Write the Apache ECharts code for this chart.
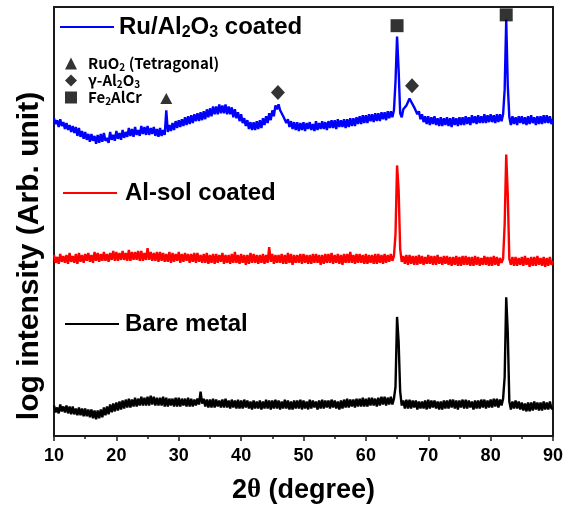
<!DOCTYPE html>
<html>
<head>
<meta charset="utf-8">
<script src="https://cdn.jsdelivr.net/npm/echarts@6/dist/echarts.min.js"></script>
<style>html,body{margin:0;padding:0;background:#fff;}#c{width:572px;height:509px;}</style>
</head>
<body>
<div id="c"></div>
<script>
// x tick labels
var xTicks = [10, 20, 30, 40, 50, 60, 70, 80, 90];
// sampling grid (2theta, degree)
var twoTheta = [
10,10.25,10.5,10.75,11,11.25,11.5,11.75,12,12.25,12.5,12.75,13,13.25,13.5,13.75,14,14.25,14.5,14.75,
15,15.25,15.5,15.75,16,16.25,16.5,16.75,17,17.25,17.5,17.75,18,18.25,18.5,18.75,19,19.25,19.5,19.75,
20,20.25,20.5,20.75,21,21.25,21.5,21.75,22,22.25,22.5,22.75,23,23.25,23.5,23.75,24,24.25,24.5,24.75,
25,25.25,25.5,25.75,26,26.25,26.5,26.75,27,27.25,27.5,27.75,28,28.25,28.5,28.75,29,29.25,29.5,29.75,
30,30.25,30.5,30.75,31,31.25,31.5,31.75,32,32.25,32.5,32.75,33,33.25,33.5,33.75,34,34.25,34.5,34.75,
35,35.25,35.5,35.75,36,36.25,36.5,36.75,37,37.25,37.5,37.75,38,38.25,38.5,38.75,39,39.25,39.5,39.75,
40,40.25,40.5,40.75,41,41.25,41.5,41.75,42,42.25,42.5,42.75,43,43.25,43.5,43.75,44,44.25,44.5,44.75,
45,45.25,45.5,45.75,46,46.25,46.5,46.75,47,47.25,47.5,47.75,48,48.25,48.5,48.75,49,49.25,49.5,49.75,
50,50.25,50.5,50.75,51,51.25,51.5,51.75,52,52.25,52.5,52.75,53,53.25,53.5,53.75,54,54.25,54.5,54.75,
55,55.25,55.5,55.75,56,56.25,56.5,56.75,57,57.25,57.5,57.75,58,58.25,58.5,58.75,59,59.25,59.5,59.75,
60,60.25,60.5,60.75,61,61.25,61.5,61.75,62,62.25,62.5,62.75,63,63.25,63.5,63.75,64,64.25,64.5,64.75,
65,65.25,65.5,65.75,66,66.25,66.5,66.75,67,67.25,67.5,67.75,68,68.25,68.5,68.75,69,69.25,69.5,69.75,
70,70.25,70.5,70.75,71,71.25,71.5,71.75,72,72.25,72.5,72.75,73,73.25,73.5,73.75,74,74.25,74.5,74.75,
75,75.25,75.5,75.75,76,76.25,76.5,76.75,77,77.25,77.5,77.75,78,78.25,78.5,78.75,79,79.25,79.5,79.75,
80,80.25,80.5,80.75,81,81.25,81.5,81.75,82,82.25,82.5,82.75,83,83.25,83.5,83.75,84,84.25,84.5,84.75,
85,85.25,85.5,85.75,86,86.25,86.5,86.75,87,87.25,87.5,87.75,88,88.25,88.5,88.75,89,89.25,89.5,89.75,
90];
// log intensity (arb. units, offset traces)
var ruAl2O3 = [
323,317,321,314, 322,315,319,312, 318,311,316,309, 315,308,314,305, 313,304,310,302,
309,301,307,299, 307,300,305,297, 306,298,307,299, 308,300,303,298, 309,301,306,300,
310,302,308,301, 311,303,309,304, 313,305,312,304, 314,306,311,305, 315,307,314,306,
315,306,313,307, 314,305,312,304, 313,305,311,306, 331,309,316,310, 318,311,320,313,
321,314,322,315, 324,316,325,317, 326,318,327,320, 328,320,329,321, 330,322,332,324,
333,325,335,327, 335,327,337,328, 336,328,337,327, 335,327,334,324, 332,323,329,320,
327,318,323,315, 321,312,319,311, 319,311,320,312, 321,313,323,316, 325,318,328,321,
331,325,336,332, 337,331,333,325, 326,318,322,314, 320,312,319,311, 319,310,318,311,
319,310,318,312, 319,311,317,310, 320,311,318,312, 320,312,319,311, 320,313,321,313,
321,312,322,314, 321,314,322,313, 322,314,323,315, 323,315,324,317, 325,317,326,318,
326,318,327,320, 327,319,328,320, 328,320,329,322, 329,321,330,323, 330,324,331,360,
406,372,328,324, 332,330,336,338, 343,340,338,334, 335,327,330,322, 327,319,325,317,
325,316,324,317, 325,316,323,315, 324,315,323,316, 324,315,323,314, 324,316,323,315,
324,316,324,316, 325,317,324,316, 326,318,325,317, 326,318,325,318, 327,318,326,319,
327,319,326,318, 327,319,327,320, 327,352,423,356, 324,316,325,317, 324,316,325,318,
325,317,324,316, 325,317,326,318, 324,316,325,317, 325,317,326,318, 326,318,325,317,
322];
var alSol = [
184,176,182,175, 185,177,183,176, 184,175,186,177, 183,176,185,175, 186,177,184,176,
185,178,186,177, 184,176,187,178, 186,177,185,178, 187,178,185,177, 186,179,188,178,
187,178,186,179, 188,179,186,178, 189,178,187,179, 187,179,188,178, 188,178,186,179,
191,179,187,178, 186,178,187,177, 187,178,186,177, 185,177,187,176, 186,177,185,178,
187,176,185,177, 186,178,185,176, 185,177,186,176, 186,177,184,176, 185,176,186,175,
184,176,185,175, 185,176,184,177, 186,175,184,176, 184,175,185,176, 187,176,184,175,
185,176,184,174, 184,175,186,176, 185,176,184,175, 184,176,185,175, 184,176,192,177,
185,175,184,176, 184,176,185,175, 184,175,186,176, 185,174,184,176, 184,176,185,175,
185,176,184,175, 184,175,185,176, 185,176,184,174, 184,175,185,176, 185,176,186,175,
184,176,185,175, 184,174,185,176, 185,176,187,176, 184,175,185,176, 185,176,184,175,
185,175,184,176, 184,175,185,175, 185,176,184,175, 185,176,184,177, 185,178,183,205,
275,250,190,177, 183,175,184,174, 184,175,183,174, 183,174,184,175, 183,174,182,175,
184,175,183,174, 183,174,184,175, 182,174,183,175, 183,174,182,173, 182,174,183,173,
182,173,183,174, 183,174,182,173, 182,173,183,174, 182,173,181,174, 183,174,182,173,
182,173,183,174, 182,173,181,176, 180,215,286,245, 180,174,182,173, 182,173,181,174,
182,173,183,174, 181,172,182,173, 182,173,183,174, 181,173,182,172, 181,173,182,174,
178];
var bareMetal = [
31,24,29,23, 32,25,30,24, 31,23,30,22, 30,22,28,21, 29,21,28,20,
28,20,27,19, 27,18,26,17, 26,18,27,19, 29,21,30,22, 32,24,33,25,
34,26,35,27, 36,28,37,29, 38,29,37,30, 39,30,38,31, 40,31,39,31,
40,31,41,32, 40,31,39,31, 39,31,40,30, 39,30,38,31, 38,30,39,30,
39,30,38,31, 38,30,39,30, 38,30,37,31, 38,32,45,33, 38,30,37,29,
37,29,38,29, 37,30,36,29, 37,29,38,29, 36,28,37,29, 36,28,37,28,
36,28,37,29, 36,28,35,27, 36,28,35,28, 36,27,35,28, 37,28,36,27,
36,28,37,28, 36,27,35,28, 37,28,36,27, 35,27,36,28, 36,28,37,27,
36,28,35,27, 37,28,36,29, 35,27,36,28, 37,28,36,29, 36,28,37,29,
36,28,35,27, 36,28,37,29, 38,29,37,30, 37,29,38,30, 38,30,39,30,
38,30,39,31, 39,31,38,30, 39,31,40,32, 40,31,39,32, 40,32,38,50,
121,96,45,31, 36,28,37,28, 37,28,36,29, 36,27,35,28, 35,28,36,27,
37,28,36,29, 36,28,35,27, 35,27,36,28, 36,28,37,29, 37,28,36,27,
36,29,37,28, 37,28,36,29, 35,27,36,28, 36,28,37,29, 37,28,36,29,
37,29,38,30, 38,29,37,31, 38,60,141,105, 35,27,35,28, 36,28,35,27,
34,26,33,25, 34,25,34,26, 35,27,34,26, 34,26,35,27, 34,27,35,28,
28];
// phase markers [2theta, height]
var ruo2Marks = [[28.0, 343]];
var gAl2O3Marks = [[45.9, 349], [67.4, 356]];
var fe2AlCrMarks = [[65.0, 417], [82.5, 428]];

function pairs(ys){ var out = []; for (var i = 0; i < twoTheta.length; i++) out.push([twoTheta[i], ys[i]]); return out; }

var SANS = '"Liberation Sans", Arial, sans-serif';
var KR = '"Noto Sans CJK KR", "Noto Sans", sans-serif';
function big(extra){ return Object.assign({fontFamily:SANS, fontWeight:'bold', fontSize:24, color:'#000', lineHeight:28, verticalAlign:'middle'}, extra||{}); }
var bigRich = { n: big(), s: big({fontSize:16, lineHeight:16, verticalAlign:'bottom'}) };
var smRich = {
  n: {fontFamily:KR, fontWeight:'bold', fontSize:15, color:'#000', lineHeight:17, verticalAlign:'middle'},
  s: {fontFamily:KR, fontWeight:'bold', fontSize:10, color:'#000', lineHeight:10, verticalAlign:'bottom'}
};
var legendNames = {
  'Ru/Al2O3 coated': '{n|Ru/Al}{s|2}{n|O}{s|3}{n| coated}',
  'Al-sol coated': '{n|Al-sol coated}',
  'Bare metal': '{n|Bare metal}',
  'RuO2': '{n|RuO}{s|2}{n| (Tetragonal)}',
  'gAl2O3': '{n|\u03b3-Al}{s|2}{n|O}{s|3}',
  'Fe2AlCr': '{n|Fe}{s|2}{n|AlCr}'
};
function fmt(name){ return legendNames[name]; }
function lineLegend(name, left, centerY, gap){
  return {data:[name], left:left, top:centerY-11, padding:0, itemWidth:54, itemHeight:2, icon:'rect',
    formatter:fmt, textStyle:{rich:bigRich, padding:[0,0,0,gap]}, selectedMode:false};
}

var chart = echarts.init(document.getElementById('c'), null, {renderer:'canvas'});
chart.setOption({
  animation:false,
  backgroundColor:'#fff',
  grid:{left:54, right:19, top:7, bottom:66, show:true, borderColor:'#1a1a1a', borderWidth:2, backgroundColor:'transparent'},
  xAxis:{type:'value', min:10, max:90, interval:10,
    axisLine:{lineStyle:{color:'#1a1a1a', width:2}},
    axisTick:{show:true, length:5, lineStyle:{color:'#1a1a1a', width:1.5}},
    minorTick:{show:true, splitNumber:2, length:3, lineStyle:{color:'#1a1a1a', width:1.5}},
    splitLine:{show:false},
    axisLabel:{color:'#000', fontFamily:SANS, fontWeight:'bold', fontSize:18, margin:11,
      formatter:function(v){ return xTicks.indexOf(v) >= 0 ? String(v) : ''; }},
    name:'{a|2}{t|\u03b8}{a| (degree)}', nameLocation:'middle', nameGap:41,
    nameTextStyle:{rich:{a:{fontFamily:SANS, fontWeight:'bold', fontSize:27, color:'#000'}, t:{fontFamily:'"Liberation Serif", serif', fontWeight:'bold', fontSize:27, color:'#000'}}}
  },
  yAxis:{type:'value', min:0, max:436,
    axisLine:{show:true, lineStyle:{color:'#1a1a1a', width:2}},
    axisTick:{show:false}, axisLabel:{show:false}, splitLine:{show:false}},
  graphic:[{type:'text', x:30, y:256, rotation:Math.PI/2,
    style:{text:'log intensity (Arb. unit)', fontFamily:SANS, fontWeight:'bold', fontSize:30, fill:'#000', align:'center', verticalAlign:'middle'}}],
  legend:[
    lineLegend('Ru/Al2O3 coated', 60, 26, 0),
    lineLegend('Al-sol coated', 63, 192, 3),
    lineLegend('Bare metal', 65, 323, 1),
    {data:['RuO2','gAl2O3','Fe2AlCr'], orient:'vertical', left:65, top:56, padding:0, itemGap:1,
     itemWidth:12, itemHeight:12, formatter:fmt, selectedMode:false,
     textStyle:{rich:smRich, padding:[0,0,0,6]}}
  ],
  series:[
    {name:'Ru/Al2O3 coated', type:'line', data:pairs(ruAl2O3), showSymbol:false, symbol:'none', color:'#0000ff', lineStyle:{width:2.4, color:'#0000ff'}, z:3},
    {name:'Al-sol coated', type:'line', data:pairs(alSol), showSymbol:false, symbol:'none', color:'#ff0000', lineStyle:{width:2.4, color:'#ff0000'}, z:3},
    {name:'Bare metal', type:'line', data:pairs(bareMetal), showSymbol:false, symbol:'none', color:'#000000', lineStyle:{width:2.4, color:'#000'}, z:3},
    {name:'RuO2', type:'scatter', data:ruo2Marks, symbol:'triangle', symbolSize:[12,11], itemStyle:{color:'#000'}, z:5},
    {name:'gAl2O3', type:'scatter', data:gAl2O3Marks, symbol:'diamond', symbolSize:[14,15], itemStyle:{color:'#000'}, z:5},
    {name:'Fe2AlCr', type:'scatter', data:fe2AlCrMarks, symbol:'rect', symbolSize:[13,13], itemStyle:{color:'#000'}, z:5}
  ]
});
</script>
</body>
</html>
